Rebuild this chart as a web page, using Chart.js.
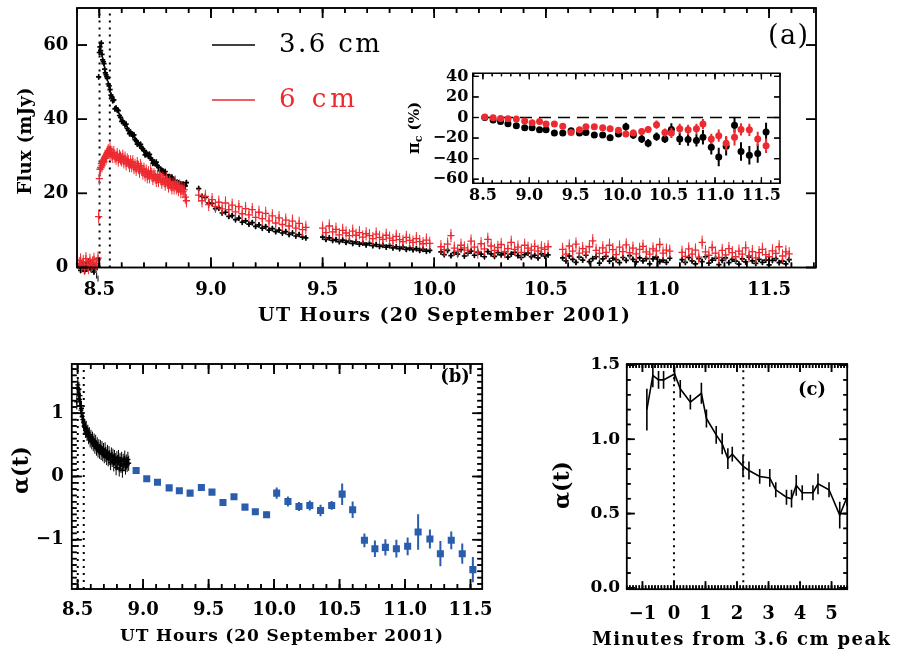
<!DOCTYPE html>
<html>
<head>
<meta charset="utf-8">
<script src="https://cdn.jsdelivr.net/npm/chart.js"></script>
<style>
  html, body { margin: 0; padding: 0; background: #fff; }
  body { width: 898px; height: 651px; position: relative; overflow: hidden; }
  canvas { position: absolute; }
</style>
</head>
<body>
<canvas id="panelA" width="898" height="335" style="left:0;top:0"></canvas>
<canvas id="inset" width="400" height="150" style="left:400px;top:60px"></canvas>
<canvas id="panelB" width="560" height="311" style="left:0;top:340px"></canvas>
<canvas id="panelC" width="358" height="311" style="left:540px;top:340px"></canvas>
<script>
// ---------------------------------------------------------------
// (a) VLA light curves at 3.6 cm and 6 cm, UT hours on 20 Sep 2001
// ---------------------------------------------------------------
const hours = [
  // quiescent level before the flare
  8.410, 8.416, 8.422, 8.428, 8.434, 8.440, 8.446, 8.452, 8.458, 8.464, 8.470, 8.476, 8.482, 8.488, 8.494,
  // flare rise and decay
  8.497, 8.500, 8.503, 8.506, 8.509, 8.512, 8.515, 8.518, 8.521, 8.524,
  8.527, 8.530, 8.533, 8.536, 8.540, 8.544, 8.548, 8.552, 8.556, 8.560,
  8.565, 8.570, 8.575, 8.580, 8.585, 8.590, 8.595, 8.600, 8.605, 8.610,
  8.615, 8.620, 8.625, 8.630, 8.635, 8.640, 8.645, 8.650, 8.655, 8.660,
  8.665, 8.670, 8.675, 8.680, 8.685, 8.690, 8.695, 8.700, 8.705, 8.710,
  8.715, 8.720, 8.725, 8.730, 8.735, 8.740, 8.745, 8.750, 8.755, 8.760,
  8.765, 8.770, 8.775, 8.780, 8.785, 8.790, 8.795, 8.800, 8.805, 8.810,
  8.815, 8.820, 8.825, 8.830, 8.835, 8.840, 8.845, 8.850, 8.855, 8.860,
  8.865, 8.870, 8.875, 8.880, 8.885, 8.890,
  // scan 2
  8.945, 8.960, 8.975, 8.990, 9.005, 9.020, 9.035, 9.050, 9.065, 9.080, 9.095,
  9.110, 9.125, 9.140, 9.155, 9.170, 9.185, 9.200, 9.215, 9.230, 9.245, 9.260,
  9.275, 9.290, 9.305, 9.320, 9.335, 9.350, 9.365, 9.380, 9.395, 9.410, 9.425,
  // scan 3
  9.500, 9.515, 9.530, 9.545, 9.560, 9.575, 9.590, 9.605, 9.620, 9.635, 9.650,
  9.665, 9.680, 9.695, 9.710, 9.725, 9.740, 9.755, 9.770, 9.785, 9.800, 9.815,
  9.830, 9.845, 9.860, 9.875, 9.890, 9.905, 9.920, 9.935, 9.950, 9.965, 9.980,
  // scan 4
  10.030, 10.045, 10.060, 10.075, 10.090, 10.105, 10.120, 10.135, 10.150, 10.165, 10.180,
  10.195, 10.210, 10.225, 10.240, 10.255, 10.270, 10.285, 10.300, 10.315, 10.330, 10.345,
  10.360, 10.375, 10.390, 10.405, 10.420, 10.435, 10.450, 10.465, 10.480, 10.495, 10.510,
  // scan 5
  10.575, 10.590, 10.605, 10.620, 10.635, 10.650, 10.665, 10.680, 10.695, 10.710, 10.725,
  10.740, 10.755, 10.770, 10.785, 10.800, 10.815, 10.830, 10.845, 10.860, 10.875, 10.890,
  10.905, 10.920, 10.935, 10.950, 10.965, 10.980, 10.995, 11.010, 11.025, 11.040, 11.055,
  // scan 6
  11.110, 11.125, 11.140, 11.155, 11.170, 11.185, 11.200, 11.215, 11.230, 11.245, 11.260,
  11.275, 11.290, 11.305, 11.320, 11.335, 11.350, 11.365, 11.380, 11.395, 11.410, 11.425,
  11.440, 11.455, 11.470, 11.485, 11.500, 11.515, 11.530, 11.545, 11.560, 11.575, 11.590
];

const flux36 = [
  0.5, -0.8, 1.2, 0.2, -1.0, 0.8, -0.3, 1.5, 0.0, -0.6, 0.9, -1.2, -0.5, -2.2, -3.0,
  51.4, 58.0, 59.5, 58.5, 60.5, 57.5, 56.0, 55.5, 55.0, 53.5,
  52.5, 52.0, 51.5, 51.0, 49.5, 49.0, 48.0, 46.5, 46.0, 45.0,
  45.2, 42.8, 43.0, 42.5, 42.3, 41.0, 40.5, 39.4, 39.5, 39.0,
  38.5, 38.7, 37.5, 37.0, 36.1, 36.5, 36.0, 35.5, 35.8, 34.5,
  34.2, 33.3, 33.5, 33.0, 33.2, 32.2, 32.0, 31.5, 30.4, 31.0,
  30.5, 30.0, 30.5, 29.5, 29.0, 28.1, 28.5, 28.0, 28.4, 27.5,
  27.0, 26.1, 26.5, 26.2, 26.0, 25.5, 25.9, 25.0, 24.2, 24.5,
  24.5, 24.0, 24.4, 23.5, 23.5, 23.2, 22.4, 23.0, 22.8, 22.5,
  22.5, 22.2, 22.5, 22.0, 22.0, 22.9,
  21.3, 19.2, 18.9, 17.4, 17.3, 15.9, 16.0, 14.7, 14.9, 13.8, 14.0,
  12.9, 13.3, 12.2, 12.6, 11.7, 12.1, 11.1, 11.5, 10.6, 11.0, 10.1,
  10.5, 9.7, 10.1, 9.3, 9.7, 8.9, 9.3, 8.5, 8.9, 8.2, 8.0,
  8.2, 7.6, 8.0, 7.3, 7.5, 7.0, 7.4, 6.8, 7.1, 6.5, 6.9,
  6.3, 6.6, 6.1, 6.5, 5.9, 6.2, 5.7, 6.0, 5.5, 5.9, 5.3,
  5.6, 5.1, 5.5, 4.9, 5.2, 4.8, 5.1, 4.6, 4.9, 4.4, 4.6,
  4.2, 3.5, 4.6, 3.2, 4.0, 3.6, 4.8, 3.1, 3.9, 4.4, 3.3,
  4.1, 3.6, 2.9, 4.3, 3.7, 3.0, 4.0, 3.4, 3.8, 2.8, 3.6,
  4.1, 3.2, 2.7, 3.5, 3.9, 2.9, 3.3, 2.6, 3.7, 3.1, 3.4,
  2.6, 1.8, 3.1, 2.2, 1.4, 2.8, 2.0, 3.3, 1.6, 2.4, 2.9,
  1.2, 2.3, 3.0, 1.7, 2.5, 2.1, 1.3, 2.7, 1.9, 3.2, 2.2,
  1.5, 2.6, 1.8, 2.4, 1.0, 2.3, 2.8, 1.6, 2.0, 1.4, 2.5,
  2.1, 1.4, 2.7, 1.8, 1.0, 2.4, 1.6, 2.9, 1.2, 2.0, 2.5,
  0.8, 1.9, 2.6, 1.3, 2.2, 1.7, 0.9, 2.3, 1.5, 2.8, 1.8,
  1.1, 2.2, 1.4, 2.0, 0.7, 1.9, 2.4, 1.3, 1.7, 1.0, 2.1
];

const flux6 = [
  1.0, 2.0, 0.3, 1.6, -0.2, 2.4, 0.8, 0.0, 1.9, 0.5, 1.2, 2.2, 0.4, 1.0, 2.5,
  13.7, 24.0, 26.5, 27.0, 28.0, 27.5, 28.5, 29.0, 28.5, 29.5,
  30.0, 29.5, 30.5, 31.0, 31.5, 31.0, 32.0, 30.5, 31.0, 30.0,
  31.0, 30.0, 29.5, 30.5, 29.0, 30.0, 29.5, 29.0, 30.0, 28.5,
  29.5, 28.0, 29.0, 28.5, 27.5, 28.5, 27.5, 28.5, 27.0, 27.5,
  26.5, 28.0, 27.0, 26.0, 27.5, 26.5, 25.5, 26.5, 25.0, 26.0,
  24.5, 25.5, 24.5, 26.0, 25.0, 24.0, 25.0, 24.5, 23.5, 24.5,
  23.5, 25.0, 24.0, 23.0, 24.0, 23.5, 22.5, 24.0, 23.0, 22.0,
  23.0, 22.5, 21.5, 22.5, 21.5, 23.0, 21.5, 22.0, 21.0, 22.0,
  20.5, 21.5, 20.5, 21.0, 19.0, 18.0,
  19.5, 18.0, 19.2, 17.0, 18.3, 16.5, 17.6, 15.8, 17.4, 15.6, 16.8,
  15.0, 16.4, 14.5, 15.9, 14.2, 15.6, 13.5, 14.9, 13.2, 14.6, 12.6,
  13.9, 12.0, 13.4, 11.6, 12.8, 11.2, 12.5, 10.6, 11.9, 10.2, 10.8,
  10.6, 9.4, 11.2, 9.6, 10.3, 8.8, 10.0, 9.3, 8.6, 9.8, 8.7,
  9.4, 8.2, 9.1, 8.6, 7.8, 9.0, 8.1, 7.6, 8.7, 7.9, 7.3,
  8.4, 7.5, 7.0, 8.1, 7.3, 6.8, 7.8, 7.0, 6.4, 7.4, 6.5,
  5.6, 4.8, 6.3, 8.6, 5.2, 4.4, 6.0, 5.3, 4.7, 7.1, 5.5,
  4.2, 6.4, 5.0, 7.6, 5.8, 4.6, 5.4, 6.2, 4.3, 5.1, 6.8,
  4.9, 5.5, 4.1, 6.0, 5.2, 4.7, 5.7, 4.4, 5.3, 4.9, 5.6,
  4.9, 3.6, 5.8, 4.4, 6.3, 3.9, 5.1, 4.2, 5.6, 7.2, 4.6,
  3.8, 5.3, 4.1, 6.0, 4.8, 3.5, 5.5, 4.3, 6.1, 4.0, 5.2,
  3.7, 4.9, 5.7, 4.2, 3.6, 5.0, 4.5, 6.2, 3.9, 4.7, 4.4,
  4.1, 3.0, 5.0, 3.6, 4.7, 2.8, 6.8, 4.2, 3.3, 5.4, 3.9,
  2.7, 4.6, 3.4, 5.1, 4.0, 2.9, 4.4, 3.6, 5.3, 3.2, 4.3,
  2.6, 4.0, 4.9, 3.5, 2.9, 4.5, 3.8, 5.6, 3.1, 4.2, 3.7
];

const fluxErr36 = 0.8;   // mJy, 1-sigma
const fluxErr6 = 1.8;    // mJy, 1-sigma

const utTicks = [8.5, 9.0, 9.5, 10.0, 10.5, 11.0, 11.5];
const utTickLabels = ['8.5', '9.0', '9.5', '10.0', '10.5', '11.0', '11.5'];
const fluxTicks = [0, 20, 40, 60];
const fluxTickLabels = ['0', '20', '40', '60'];
const flareMarksUT = [8.501, 8.547];

// ---------------------------------------------------------------
// inset: circular polarization per 5-minute bin
// ---------------------------------------------------------------
const polHours = [8.52, 8.61, 8.69, 8.77, 8.86, 8.95, 9.03, 9.11, 9.18, 9.27, 9.36, 9.45, 9.54,
                  9.61, 9.70, 9.79, 9.87, 9.96, 10.04, 10.12, 10.21, 10.28, 10.37, 10.46, 10.53,
                  10.62, 10.71, 10.80, 10.87, 10.96, 11.04, 11.12, 11.21, 11.28, 11.37, 11.46, 11.55];
const pol36 = [0, -2.4, -4, -6, -8, -10, -10, -12, -12, -15, -15, -13, -15,
               -14.6, -17, -17, -19.8, -16, -9, -17, -20.8, -25, -18.6, -20.8, -11.6,
               -20.8, -21.4, -22.3, -19.2, -29, -38.5, -28, -7.6, -33, -36.6, -35, -14];
const pol36Err = [1.5, 1.5, 2, 2, 2, 2, 2, 2, 2.5, 2.5, 2.5, 2.5, 3,
                  3, 3, 3, 3, 3, 4, 4, 4, 4, 4, 4, 6,
                  6, 6, 6, 7, 7, 9, 9, 7, 9, 9, 9, 9];
const pol6 = [0.6, -0.3, -1, -1.2, -1.5, -3.4, -5, -4, -6.4, -6.4, -8.5, -14.6, -12,
              -9, -9, -10, -11, -12.5, -16, -15, -13.7, -11.6, -7, -14.6, -15,
              -11, -12, -11, -6.4, -20.8, -17.7, -25, -19.2, -11.6, -12, -20.8, -27.5];
const pol6Err = [1, 1, 1.5, 1.5, 1.5, 1.5, 2, 2, 2, 2, 2, 2.5, 2.5,
                 2.5, 2.5, 2.5, 3, 3, 3, 3, 3, 3, 4, 4, 5,
                 5, 5, 5, 5, 5, 6, 7, 8, 6, 6, 7, 7];
const polTicks = [40, 20, 0, -20, -40, -60];
const polTickLabels = ['40', '20', '0', '\u221220', '\u221240', '\u221260'];

// ---------------------------------------------------------------
// (b) spectral index alpha(t) between 3.6 and 6 cm
// ---------------------------------------------------------------
const alphaEarlyHours = [
  8.494, 8.498, 8.502, 8.506, 8.510, 8.514, 8.518, 8.522, 8.526, 8.530,
  8.535, 8.540, 8.545, 8.550, 8.555, 8.560, 8.566, 8.572, 8.578, 8.584,
  8.590, 8.596, 8.602, 8.608, 8.614, 8.620, 8.626, 8.632, 8.638, 8.644,
  8.650, 8.656, 8.662, 8.668, 8.674, 8.680, 8.686, 8.692, 8.698, 8.704,
  8.710, 8.716, 8.722, 8.728, 8.734, 8.740, 8.746, 8.752, 8.758, 8.764,
  8.770, 8.776, 8.782, 8.788, 8.794, 8.800, 8.806, 8.812, 8.818, 8.824,
  8.830, 8.836, 8.842, 8.848, 8.854, 8.860, 8.866, 8.872, 8.878, 8.884, 8.890
];
const alphaEarly = [
  1.18, 1.40, 1.45, 1.30, 1.38, 1.22, 1.28, 1.12, 1.05, 1.08,
  0.95, 0.90, 0.86, 0.80, 0.78, 0.73, 0.76, 0.68, 0.70, 0.63,
  0.66, 0.58, 0.62, 0.55, 0.59, 0.52, 0.56, 0.48, 0.54, 0.45,
  0.50, 0.42, 0.47, 0.40, 0.46, 0.38, 0.44, 0.36, 0.41, 0.33,
  0.42, 0.35, 0.30, 0.38, 0.28, 0.36, 0.30, 0.22, 0.34, 0.27,
  0.32, 0.20, 0.30, 0.25, 0.14, 0.28, 0.22, 0.30, 0.12, 0.25,
  0.18, 0.27, 0.10, 0.24, 0.20, 0.29, 0.15, 0.23, 0.19, 0.27, 0.21
];
const alphaEarlyErr = 0.12;
const alphaLateHours = [8.947, 9.028, 9.110, 9.199, 9.277, 9.359, 9.445, 9.526, 9.610, 9.694,
                        9.778, 9.857, 9.943, 10.020, 10.106, 10.190, 10.273, 10.355, 10.440, 10.520,
                        10.600, 10.690, 10.770, 10.850, 10.934, 11.020, 11.100, 11.190, 11.270, 11.353,
                        11.437, 11.518];
const alphaLate = [0.095, -0.037, -0.09, -0.18, -0.226, -0.263, -0.174, -0.247, -0.41, -0.32,
                   -0.484, -0.558, -0.605, -0.263, -0.395, -0.474, -0.458, -0.537, -0.458, -0.279,
                   -0.526, -1.01, -1.142, -1.121, -1.142, -1.105, -0.879, -0.99, -1.221, -1.01,
                   -1.221, -1.474];
const alphaLateErr = [0.03, 0.03, 0.03, 0.03, 0.03, 0.03, 0.04, 0.04, 0.04, 0.04,
                      0.04, 0.04, 0.05, 0.09, 0.08, 0.07, 0.08, 0.09, 0.07, 0.17,
                      0.13, 0.11, 0.13, 0.13, 0.14, 0.14, 0.28, 0.15, 0.2, 0.14,
                      0.16, 0.2];
const alphaTicks = [1, 0, -1];
const alphaTickLabels = ['1', '0', '\u22121'];

// ---------------------------------------------------------------
// (c) alpha(t) around the 3.6 cm peak, in minutes
// ---------------------------------------------------------------
const peakMinutes = [-0.86, -0.67, -0.49, -0.33, 0.02, 0.20, 0.52, 0.87, 1.03, 1.34,
                     1.53, 1.71, 1.85, 2.19, 2.38, 2.72, 3.04, 3.23, 3.57, 3.73,
                     3.88, 4.07, 4.41, 4.57, 4.92, 5.26, 5.49];
const alphaPeak = [1.20, 1.43, 1.40, 1.40, 1.44, 1.34, 1.25, 1.31, 1.14, 1.03,
                   0.97, 0.87, 0.90, 0.82, 0.79, 0.75, 0.74, 0.66, 0.61, 0.60,
                   0.69, 0.64, 0.64, 0.70, 0.66, 0.49, 0.61];
const alphaPeakErr = [0.14, 0.08, 0.06, 0.06, 0.05, 0.06, 0.05, 0.07, 0.06, 0.06,
                      0.07, 0.07, 0.05, 0.07, 0.06, 0.05, 0.06, 0.05, 0.05, 0.06,
                      0.07, 0.05, 0.05, 0.07, 0.05, 0.09, 0.06];
const minuteTicks = [-1, 0, 1, 2, 3, 4, 5];
const minuteTickLabels = ['\u22121', '0', '1', '2', '3', '4', '5'];
const alphaCTicks = [0, 0.5, 1.0, 1.5];
const alphaCTickLabels = ['0.0', '0.5', '1.0', '1.5'];
const flareMarksMin = [0, 2.2];

// ---------------------------------------------------------------
// drawing helpers
// ---------------------------------------------------------------
const RED = '#ec2a30';
const BLUE = '#2a5ead';
const SERIF = "'DejaVu Serif', serif";

Chart.defaults.font.family = SERIF;
Chart.defaults.color = '#000';

// Vertical error bars, drawn just before each dataset's own markers.
const errorBars = {
  id: 'errorBars',
  beforeDatasetDraw(chart, args) {
    const ds = chart.data.datasets[args.index];
    if (ds.yErr == null) return;
    const { ctx } = chart;
    const y = chart.scales.y;
    ctx.save();
    ctx.strokeStyle = ds.errColor;
    ctx.lineWidth = ds.errWidth;
    ctx.beginPath();
    args.meta.data.forEach((el, i) => {
      const d = ds.data[i];
      const e = Array.isArray(ds.yErr) ? ds.yErr[i] : ds.yErr;
      ctx.moveTo(el.x, y.getPixelForValue(d.y - e));
      ctx.lineTo(el.x, y.getPixelForValue(d.y + e));
    });
    ctx.stroke();
    ctx.restore();
  }
};

// Dotted vertical time markers and dashed horizontal reference lines.
function refLines(cfg) {
  return {
    id: 'refLines',
    beforeDatasetsDraw(chart) {
      const { ctx, chartArea: a, scales: { x, y } } = chart;
      ctx.save();
      ctx.strokeStyle = '#000';
      (cfg.vertical || []).forEach(v => {
        const p = x.getPixelForValue(v);
        ctx.lineWidth = cfg.vWidth;
        ctx.setLineDash(cfg.vDash);
        ctx.beginPath(); ctx.moveTo(p, a.bottom); ctx.lineTo(p, a.top); ctx.stroke();
      });
      (cfg.horizontal || []).forEach(h => {
        const p = y.getPixelForValue(h);
        ctx.lineWidth = cfg.hWidth;
        ctx.setLineDash(cfg.hDash);
        ctx.beginPath(); ctx.moveTo(x.getPixelForValue(cfg.hFrom), p); ctx.lineTo(a.right, p); ctx.stroke();
      });
      ctx.restore();
    }
  };
}

// Inward tick marks on all four sides of the plot box, as thin filled bars.
function drawTicks(chart, axes) {
  const ctx = chart.ctx;
  const a = chart.chartArea;
  const xs = chart.scales.x, ys = chart.scales.y;
  const L = a.left, R = a.right, T = a.top, Bt = a.bottom;
  const w = axes.lineWidth;
  ctx.save();
  ctx.setLineDash([]);
  ctx.globalAlpha = 1;
  ctx.globalCompositeOperation = 'source-over';
  ctx.fillStyle = '#000';
  const xTick = (v, len) => {
    const p = xs.getPixelForValue(v);
    ctx.fillRect(p - w / 2, Bt - len, w, len);
    ctx.fillRect(p - w / 2, T, w, len);
  };
  const yTick = (v, len) => {
    const p = ys.getPixelForValue(v);
    ctx.fillRect(L, p - w / 2, len, w);
    ctx.fillRect(R - len, p - w / 2, len, w);
  };
  if (axes.xMinor) {
    const k0 = Math.ceil(axes.xRange[0] / axes.xMinor - 1e-6), k1 = Math.floor(axes.xRange[1] / axes.xMinor + 1e-6);
    for (let k = k0; k <= k1; k++) xTick(k * axes.xMinor, axes.minorLen);
  }
  if (axes.yMinor) {
    const k0 = Math.ceil(axes.yRange[0] / axes.yMinor - 1e-6), k1 = Math.floor(axes.yRange[1] / axes.yMinor + 1e-6);
    for (let k = k0; k <= k1; k++) yTick(k * axes.yMinor, axes.minorLen);
  }
  axes.xMajor.forEach(v => xTick(v, axes.majorLen));
  axes.yMajor.forEach(v => yTick(v, axes.majorLen));
  ctx.strokeStyle = '#000';
  ctx.lineWidth = w;
  ctx.strokeRect(L, T, R - L, Bt - T);
  ctx.restore();
}

// Frame and ticks, then titles, legend and panel letters.
function decor(axes, items) {
  return {
    id: 'decor',
    afterDatasetsDraw(chart) {
      drawTicks(chart, axes);
    },
    afterDraw(chart) {
      const ctx = chart.ctx;
      drawTicks(chart, axes);
      items.forEach(it => {
        ctx.save();
        if (it.line) {
          ctx.strokeStyle = it.color; ctx.lineWidth = it.width;
          ctx.beginPath(); ctx.moveTo(it.line[0], it.line[1]); ctx.lineTo(it.line[2], it.line[3]); ctx.stroke();
          ctx.restore();
          return;
        }
        ctx.translate(it.x, it.y);
        if (it.rotate) ctx.rotate(it.rotate);
        ctx.fillStyle = it.color || '#000';
        ctx.textBaseline = 'middle';
        ctx.textAlign = 'left';
        const parts = it.parts || [{ text: it.text, font: it.font, dy: 0 }];
        const glyphs = [];
        parts.forEach(p => {
          ctx.font = p.font;
          Array.from(p.text).forEach(ch => glyphs.push({ ch, font: p.font, dy: p.dy || 0, w: ctx.measureText(ch).width }));
        });
        const natural = glyphs.reduce((s, g) => s + g.w, 0);
        const gap = it.spanWidth && glyphs.length > 1 ? (it.spanWidth - natural) / (glyphs.length - 1) : 0;
        const total = natural + gap * (glyphs.length - 1);
        let cx = it.align === 'left' ? 0 : -total / 2;
        glyphs.forEach(g => {
          ctx.font = g.font;
          ctx.fillText(g.ch, cx, g.dy);
          cx += g.w + gap;
        });
        ctx.restore();
      });
    }
  };
}

function axis(c) {
  return {
    type: 'linear',
    min: c.min, max: c.max,
    grid: { display: false, drawTicks: false, tickLength: 0 },
    border: { display: false },
    ticks: {
      padding: c.pad,
      color: '#000',
      font: { family: SERIF, weight: 'bold', size: c.size },
      autoSkip: false, maxRotation: 0, minRotation: 0,
      callback: v => { const i = c.values.findIndex(t => Math.abs(t - v) < 1e-9); return i < 0 ? '' : c.labels[i]; }
    },
    afterBuildTicks: s => { s.ticks = c.values.map(v => ({ value: v })); },
    afterFit: s => {
      if (c.width != null) s.width = c.width;
      if (c.height != null) s.height = c.height;
      s.paddingTop = 0; s.paddingBottom = 0; s.paddingLeft = 0; s.paddingRight = 0;
    },
    title: { display: false }
  };
}

function baseOptions(extra) {
  return Object.assign({
    responsive: false,
    animation: false,
    devicePixelRatio: 1,
    events: [],
    plugins: { legend: { display: false }, tooltip: { enabled: false } }
  }, extra);
}

const pts = (xs, ys) => xs.map((t, i) => ({ x: t, y: ys[i] }));
const BOLD = 'bold ';

// ---------------- panel (a) ----------------
const rangeA = { x: [8.4, 11.71], y: [0, 70] };
new Chart(document.getElementById('panelA'), {
  type: 'scatter',
  data: {
    datasets: [
      { label: '6 cm', data: pts(hours, flux6), yErr: fluxErr6, errColor: RED, errWidth: 1,
        pointStyle: 'cross', pointRadius: 3.6, pointBorderWidth: 1.3, pointBorderColor: RED, borderColor: RED, clip: false },
      { label: '3.6 cm', data: pts(hours, flux36), yErr: fluxErr36, errColor: '#000', errWidth: 1,
        pointStyle: 'cross', pointRadius: 2.6, pointBorderWidth: 1.7, pointBorderColor: '#000', borderColor: '#000', clip: false }
    ]
  },
  options: baseOptions({
    layout: { padding: { top: 8, right: 82, left: 0, bottom: 0 }, autoPadding: false },
    scales: {
      x: axis({ min: rangeA.x[0], max: rangeA.x[1], values: utTicks, labels: utTickLabels, size: 18, pad: 12, height: 67.5 }),
      y: axis({ min: rangeA.y[0], max: rangeA.y[1], values: fluxTicks, labels: fluxTickLabels, size: 18, pad: 8.7, width: 77 })
    }
  }),
  plugins: [
    refLines({ vertical: flareMarksUT, vWidth: 2, vDash: [2, 5] }),
    errorBars,
    decor({ lineWidth: 1.5, majorLen: 10, minorLen: 5, xMinor: 0.1, xRange: rangeA.x, yRange: rangeA.y,
            xMajor: utTicks, yMajor: fluxTicks }, [
      { text: 'UT Hours (20 September 2001)', x: 444, y: 316, font: BOLD + '19px ' + SERIF, spanWidth: 372 },
      { text: 'Flux (mJy)', x: 26, y: 141, rotate: -Math.PI / 2, font: BOLD + '18px ' + SERIF, spanWidth: 107 },
      { line: [212, 45, 255, 45], color: '#000', width: 1.5 },
      { text: '3.6 cm', x: 279, y: 45, font: '26px ' + SERIF, color: '#000', align: 'left', spanWidth: 101 },
      { line: [212, 100, 255, 100], color: RED, width: 1.5 },
      { text: '6 cm', x: 279, y: 100, font: '26px ' + SERIF, color: RED, align: 'left', spanWidth: 76 },
      { text: '(a)', x: 788, y: 37, font: '27px ' + SERIF, color: '#000', spanWidth: 40 }
    ])
  ]
});

// ---------------- inset ----------------
const rangeI = { x: [8.39, 11.70], y: [-64, 43] };
new Chart(document.getElementById('inset'), {
  type: 'scatter',
  data: {
    datasets: [
      { label: '6 cm', data: pts(polHours, pol6), yErr: pol6Err, errColor: RED, errWidth: 2,
        pointStyle: 'circle', pointRadius: 3.5, pointBackgroundColor: RED, pointBorderWidth: 0, borderColor: RED },
      { label: '3.6 cm', data: pts(polHours, pol36), yErr: pol36Err, errColor: '#000', errWidth: 2,
        pointStyle: 'circle', pointRadius: 3.5, pointBackgroundColor: '#000', pointBorderWidth: 0, borderColor: '#000' }
    ]
  },
  options: baseOptions({
    layout: { padding: { top: 13.3, right: 20, left: 0, bottom: 0 }, autoPadding: false },
    scales: {
      x: axis({ min: rangeI.x[0], max: rangeI.x[1], values: utTicks, labels: utTickLabels, size: 16, pad: 3, height: 26.7 }),
      y: axis({ min: rangeI.y[0], max: rangeI.y[1], values: polTicks, labels: polTickLabels, size: 16, pad: 4.4, width: 72.7 })
    }
  }),
  plugins: [
    refLines({ horizontal: [0], hWidth: 1.3, hDash: [12, 7], hFrom: 8.49 }),
    errorBars,
    decor({ lineWidth: 1.2, majorLen: 6, minorLen: 3, xMinor: 0.1, xRange: rangeI.x, yRange: rangeI.y,
            xMajor: utTicks, yMajor: polTicks }, [
      { x: 15, y: 68, rotate: -Math.PI / 2, parts: [
        { text: '\u03c0', font: BOLD + '16px ' + SERIF, dy: 0 },
        { text: 'c', font: BOLD + '11px ' + SERIF, dy: 4 },
        { text: ' (%)', font: BOLD + '15px ' + SERIF, dy: 0 }
      ] }
    ])
  ]
});

// ---------------- panel (b) ----------------
const rangeB = { x: [8.455, 11.59], y: [-1.78, 1.78] };
new Chart(document.getElementById('panelB'), {
  type: 'scatter',
  data: {
    datasets: [
      { label: 'binned', data: pts(alphaLateHours, alphaLate), yErr: alphaLateErr, errColor: BLUE, errWidth: 2,
        pointStyle: 'rect', pointRadius: 5, pointBackgroundColor: BLUE, pointBorderWidth: 0, borderColor: BLUE },
      { label: 'flare', data: pts(alphaEarlyHours, alphaEarly), yErr: alphaEarlyErr, errColor: '#000', errWidth: 1,
        pointStyle: 'cross', pointRadius: 2.5, pointBorderWidth: 1.4, pointBorderColor: '#000', borderColor: '#000' }
    ]
  },
  options: baseOptions({
    layout: { padding: { top: 24, right: 77.7, left: 0, bottom: 0 }, autoPadding: false },
    scales: {
      x: axis({ min: rangeB.x[0], max: rangeB.x[1], values: utTicks, labels: utTickLabels, size: 18, pad: 10.5, height: 62 }),
      y: axis({ min: rangeB.y[0], max: rangeB.y[1], values: alphaTicks, labels: alphaTickLabels, size: 18, pad: 8, width: 71.7 })
    }
  }),
  plugins: [
    refLines({ vertical: flareMarksUT, vWidth: 2, vDash: [2, 5] }),
    errorBars,
    decor({ lineWidth: 1.5, majorLen: 10, minorLen: 5, xMinor: 0.1, yMinor: 0.1, xRange: rangeB.x, yRange: rangeB.y,
            xMajor: utTicks, yMajor: alphaTicks }, [
      { text: 'UT Hours (20 September 2001)', x: 281.5, y: 296.7, font: BOLD + '17px ' + SERIF, spanWidth: 323 },
      { text: '\u03b1(t)', x: 22, y: 130, rotate: -Math.PI / 2, font: BOLD + '22px ' + SERIF },
      { text: '(b)', x: 455, y: 37, font: BOLD + '18px ' + SERIF }
    ])
  ]
});

// ---------------- panel (c) ----------------
const rangeC = { x: [-1.5, 5.5], y: [-0.01, 1.507] };
new Chart(document.getElementById('panelC'), {
  type: 'scatter',
  data: {
    datasets: [
      { label: 'alpha', data: pts(peakMinutes, alphaPeak), yErr: alphaPeakErr, errColor: '#000', errWidth: 1.6,
        showLine: true, borderColor: '#000', borderWidth: 1.6, pointRadius: 0, tension: 0 }
    ]
  },
  options: baseOptions({
    layout: { padding: { top: 24, right: 50.7, left: 0, bottom: 0 }, autoPadding: false },
    scales: {
      x: axis({ min: rangeC.x[0], max: rangeC.x[1], values: minuteTicks, labels: minuteTickLabels, size: 18, pad: 14.5, height: 61.7 }),
      y: axis({ min: rangeC.y[0], max: rangeC.y[1], values: alphaCTicks, labels: alphaCTickLabels, size: 17, pad: 6.7, width: 86.7 })
    }
  }),
  plugins: [
    refLines({ vertical: flareMarksMin, vWidth: 2, vDash: [2, 5] }),
    errorBars,
    decor({ lineWidth: 1.5, majorLen: 8, minorLen: 4, xMinor: 0.1, yMinor: 0.1, xRange: rangeC.x, yRange: rangeC.y,
            xMajor: minuteTicks, yMajor: alphaCTicks }, [
      { text: 'Minutes from 3.6 cm peak', x: 201, y: 300, font: BOLD + '18px ' + SERIF, spanWidth: 298 },
      { text: '\u03b1(t)', x: 23, y: 145, rotate: -Math.PI / 2, font: BOLD + '22px ' + SERIF },
      { text: '(c)', x: 272, y: 50, font: BOLD + '18px ' + SERIF }
    ])
  ]
});
</script>
</body>
</html>
